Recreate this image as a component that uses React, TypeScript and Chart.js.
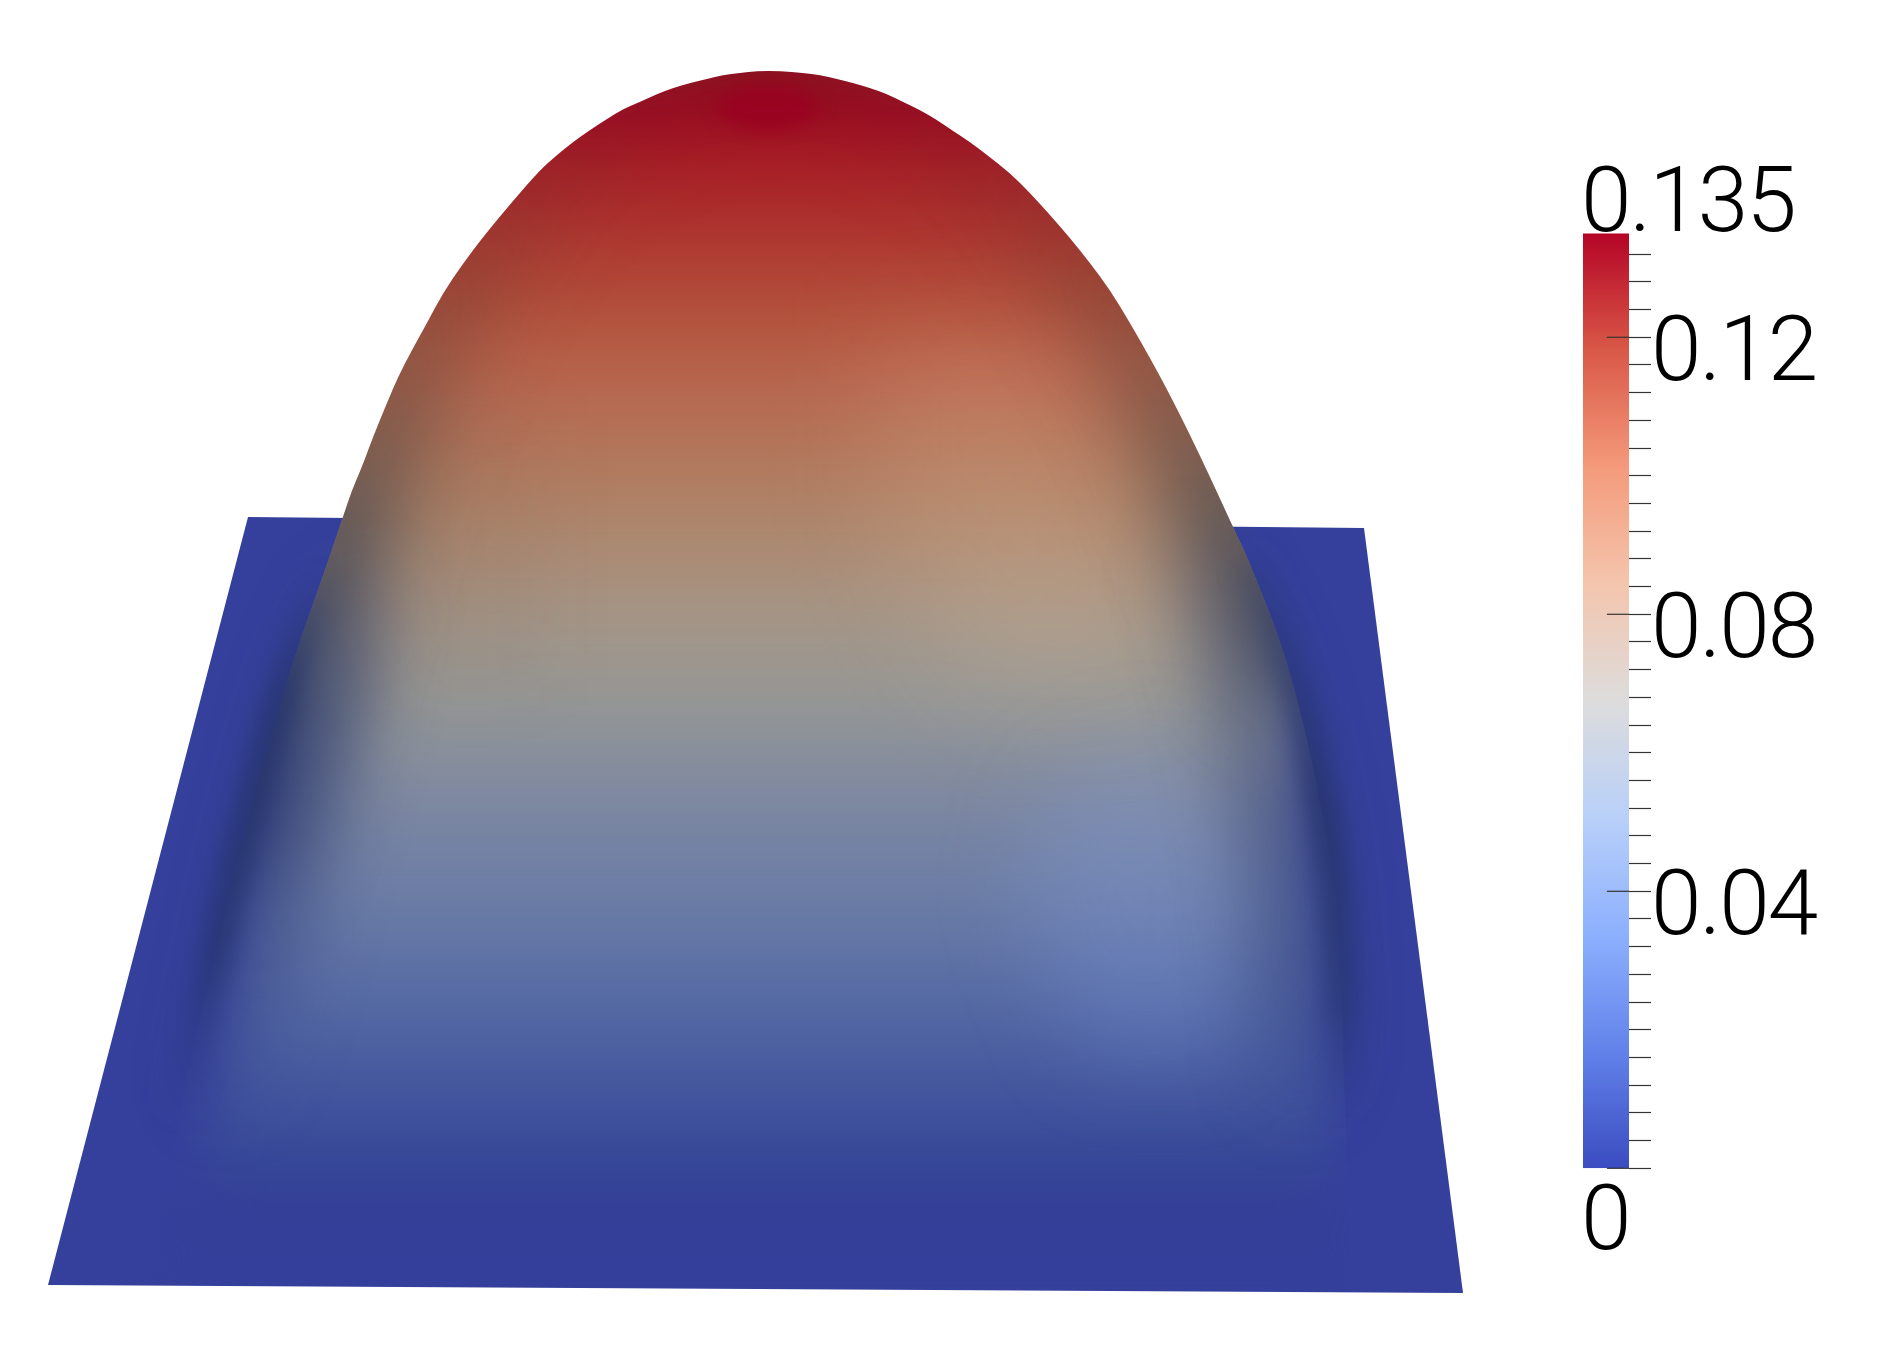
import React, { useEffect, useRef } from "react";
import { Chart, registerables } from "chart.js";

// ---- surface outlines (page pixels) ----
const baseOutline = [
  { x: 48, y: 1285 }, { x: 248, y: 517 }, { x: 1364, y: 528 }, { x: 1463, y: 1293 },
];
const domeCrown = [
  { x: 343, y: 517 }, { x: 352, y: 490 }, { x: 362, y: 467 }, { x: 373, y: 437 }, { x: 387, y: 403 }, { x: 398, y: 377 },
  { x: 412, y: 350 }, { x: 427, y: 323 }, { x: 443, y: 293 }, { x: 462, y: 265 }, { x: 483, y: 237 }, { x: 512, y: 202 },
  { x: 540, y: 170 }, { x: 557, y: 155 }, { x: 573, y: 142 }, { x: 590, y: 130 }, { x: 607, y: 119 }, { x: 623, y: 109 },
  { x: 640, y: 102 }, { x: 657, y: 94 }, { x: 673, y: 88 }, { x: 690, y: 83 }, { x: 707, y: 79 }, { x: 723, y: 75 },
  { x: 740, y: 73 }, { x: 757, y: 71 }, { x: 780, y: 71 }, { x: 803, y: 73 }, { x: 820, y: 75 }, { x: 837, y: 79 },
  { x: 853, y: 83 }, { x: 870, y: 88 }, { x: 887, y: 94 }, { x: 903, y: 102 }, { x: 920, y: 110 }, { x: 937, y: 120 },
  { x: 953, y: 131 }, { x: 970, y: 142 }, { x: 987, y: 155 }, { x: 1010, y: 173 }, { x: 1030, y: 193 }, { x: 1050, y: 215 },
  { x: 1070, y: 238 }, { x: 1090, y: 263 }, { x: 1110, y: 290 }, { x: 1130, y: 323 }, { x: 1150, y: 358 }, { x: 1170, y: 395 },
  { x: 1190, y: 435 }, { x: 1210, y: 477 }, { x: 1232, y: 525 },
];
// foot of the dome where it meets the plate: outer curve, bottom to top
const footEdgeLeft = [
  { x: 150, y: 1285 }, { x: 180, y: 1100 }, { x: 213, y: 968 }, { x: 243, y: 836 }, { x: 293, y: 660 }, { x: 320, y: 585 },
];
const footEdgeRight = [
  { x: 1250, y: 563 }, { x: 1290, y: 666 }, { x: 1323, y: 809 }, { x: 1337, y: 918 }, { x: 1343, y: 1028 }, { x: 1350, y: 1291 },
];
// colour body of the dome, drawn softened and cut along the foot and crown
const bodyLeft = [
  { x: 170, y: 1300 }, { x: 222, y: 1060 }, { x: 250, y: 920 }, { x: 282, y: 800 }, { x: 290, y: 700 }, { x: 250, y: 600 },
  { x: 240, y: 450 }, { x: 330, y: 250 }, { x: 500, y: 80 },
];
const bodyTop = [{ x: 770, y: 0 }];
const bodyRight = [
  { x: 1060, y: 80 }, { x: 1270, y: 330 }, { x: 1340, y: 520 }, { x: 1300, y: 680 }, { x: 1298, y: 820 },
  { x: 1315, y: 950 }, { x: 1330, y: 1080 }, { x: 1340, y: 1300 },
];
const shadowLeft = [
  { x: 318, y: 590 }, { x: 293, y: 660 }, { x: 243, y: 836 }, { x: 213, y: 968 }, { x: 180, y: 1100 },
];
const shadowLeftInner = [
  { x: 375, y: 560 }, { x: 345, y: 660 }, { x: 295, y: 836 }, { x: 262, y: 968 }, { x: 225, y: 1100 },
];
const shadowRight = [
  { x: 1255, y: 570 }, { x: 1290, y: 666 }, { x: 1323, y: 809 }, { x: 1337, y: 918 }, { x: 1343, y: 1028 }, { x: 1343, y: 1090 },
];
const shadowRightInner = [
  { x: 1195, y: 560 }, { x: 1238, y: 666 }, { x: 1272, y: 809 }, { x: 1288, y: 918 }, { x: 1295, y: 1028 }, { x: 1295, y: 1090 },
];
const hotSpot = [
  { x: 713, y: 107 }, { x: 735, y: 90 }, { x: 768, y: 84 }, { x: 801, y: 90 }, { x: 823, y: 107 },
  { x: 801, y: 124 }, { x: 768, y: 130 }, { x: 735, y: 124 },
];
const warmLit = [
  { x: 880, y: 330 }, { x: 1060, y: 330 }, { x: 1140, y: 500 }, { x: 1170, y: 700 }, { x: 980, y: 700 }, { x: 880, y: 520 },
];
const coolLit = [
  { x: 1050, y: 780 }, { x: 1170, y: 740 }, { x: 1240, y: 860 }, { x: 1230, y: 1060 }, { x: 1090, y: 1060 }, { x: 1020, y: 900 },
];
const leftDim = [
  { x: 420, y: 420 }, { x: 540, y: 420 }, { x: 540, y: 680 }, { x: 400, y: 680 },
];
const surfaceHeightColors: [number, string][] = [
  [70, "#8c1420"], [105, "#a00020"], [150, "#a81c25"], [200, "#ab2a2a"], [250, "#b03c33"], [300, "#b04c38"],
  [364, "#b8624a"], [485, "#b07e62"], [545, "#ac8a72"], [607, "#a69484"], [668, "#9c9890"], [728, "#8f9499"],
  [789, "#80899f"], [850, "#7382a4"], [910, "#6a7ba6"], [970, "#5c70a5"], [1030, "#5064a2"], [1092, "#43559d"],
  [1153, "#384a99"], [1195, "#323e94"], [1250, "#35409c"], [1293, "#343f9b"],
];

// ---- colour bar ----
const barValue = [{ x: 0.5, y: 0.135 }];
const tickValues = [
  0, 0.004, 0.008, 0.012, 0.016, 0.02, 0.024, 0.028, 0.032, 0.036, 0.04, 0.044, 0.048, 0.052, 0.056, 0.06, 0.064,
  0.068, 0.072, 0.076, 0.08, 0.084, 0.088, 0.092, 0.096, 0.1, 0.104, 0.108, 0.112, 0.116, 0.12, 0.124, 0.128, 0.132,
];
const majorTicks = [0, 0.04, 0.08, 0.12];
const sideLabels = [0.04, 0.08, 0.12];
const rangeLabels = [
  { value: 0.135, text: "0.135" },
  { value: 0, text: "0" },
];
const barColors = ["#3b4cc0", "#6282ea", "#8db0fe", "#b8d0f9", "#dddcdc", "#f4c5ad", "#f49a7b", "#d95847", "#b40426"];

const FONT = { family: "Roboto", size: 91, weight: "300" as any };

const layerPlugin = {
  id: "surfaceLayers",
  beforeDatasetDraw(chart: any, args: any) {
    const layer = chart.data.datasets[args.index].layer;
    if (!layer) return;
    const { ctx, scales } = chart;
    ctx.save();
    if (layer.clip) {
      const pts = layer.clip.map((p: any) => [scales.x.getPixelForValue(p.x), scales.y.getPixelForValue(p.y)]);
      ctx.beginPath();
      pts.forEach(([px, py]: number[], i: number) => {
        if (i === 0) {
          ctx.moveTo(px, py);
        } else if (layer.smooth && i < pts.length - 1) {
          const [nx, ny] = pts[i + 1];
          ctx.quadraticCurveTo(px, py, (px + nx) / 2, (py + ny) / 2);
        } else {
          ctx.lineTo(px, py);
        }
      });
      ctx.closePath();
      ctx.clip();
    }
    if (layer.blur) ctx.filter = `blur(${layer.blur}px)`;
  },
  afterDatasetDraw(chart: any, args: any) {
    if (chart.data.datasets[args.index].layer) chart.ctx.restore();
  },
};
Chart.register(layerPlugin);
Chart.register(...registerables);

function heightGradient(stops: [number, string][]) {
  return (c: any) => {
    const { chart } = c;
    if (!chart.chartArea) return "transparent";
    const y = chart.scales.y;
    const y0 = y.getPixelForValue(stops[0][0]);
    const y1 = y.getPixelForValue(stops[stops.length - 1][0]);
    const g = chart.ctx.createLinearGradient(0, y0, 0, y1);
    stops.forEach(([v, col]) => g.addColorStop((y.getPixelForValue(v) - y0) / (y1 - y0), col));
    return g;
  };
}

export default function App() {
  const surfaceRef = useRef<HTMLCanvasElement>(null);
  const barRef = useRef<HTMLCanvasElement>(null);

  useEffect(() => {
    const silhouette = [baseOutline[0], baseOutline[1], ...domeCrown, baseOutline[2], baseOutline[3]];
    const domeClip = [...footEdgeLeft, ...domeCrown, ...footEdgeRight];
    const body = [...bodyLeft, ...bodyTop, ...bodyRight];
    const edgeLine = [...footEdgeLeft.slice(3), ...domeCrown, ...footEdgeRight.slice(0, 2)];
    const inDome = { clip: domeClip, smooth: true };
    const shape = (data: any[], color: any, layer: any = {}) => ({
      type: "scatter", data, showLine: true, pointRadius: 0, borderWidth: 0, backgroundColor: color,
      fill: "shape", clip: false, layer,
    });
    const stroke = (data: any[], color: any, width: number, layer: any) => ({
      type: "scatter", data, showLine: true, pointRadius: 0, borderWidth: width, borderColor: color,
      fill: false, clip: false, tension: 0.4, borderCapStyle: "round", layer,
    });
    const layers: any[] = [
      shape(baseOutline, "#35409c"),
      shape(body, heightGradient(surfaceHeightColors), { blur: 28, ...inDome }),
      shape(warmLit, "rgba(255,215,175,0.13)", { blur: 55, ...inDome }),
      shape(coolLit, "rgba(140,170,245,0.2)", { blur: 45, ...inDome }),
      shape(leftDim, "rgba(60,50,50,0.06)", { blur: 40, ...inDome }),
      shape(hotSpot, "#a00020", { blur: 8, ...inDome }),
      stroke(edgeLine, heightGradient([[60, "rgba(60,50,40,0.1)"], [200, "rgba(60,60,50,0.14)"], [320, "rgba(60,60,55,0.3)"], [430, "rgba(60,60,60,0.5)"], [540, "rgba(50,60,75,0.8)"], [650, "rgba(40,55,95,0.9)"], [840, "rgba(40,55,95,0.6)"]]), 90, { blur: 42, ...inDome }),
      stroke(shadowLeftInner, heightGradient([[560, "rgba(45,58,100,0)"], [700, "rgba(42,56,110,0.5)"], [950, "rgba(42,56,120,0.42)"], [1130, "rgba(45,60,140,0)"]]), 70, { blur: 34, clip: silhouette }),
      stroke(shadowRightInner, heightGradient([[540, "rgba(45,58,100,0.05)"], [800, "rgba(42,56,110,0.5)"], [1000, "rgba(42,56,120,0.42)"], [1130, "rgba(45,60,140,0)"]]), 70, { blur: 34, clip: silhouette }),
      stroke(shadowLeft, heightGradient([[570, "rgba(38,52,105,0)"], [700, "rgba(38,52,105,0.95)"], [950, "rgba(38,52,110,0.95)"], [1130, "rgba(45,60,140,0)"]]), 26, { blur: 13, clip: silhouette }),
      stroke(shadowRight, heightGradient([[560, "rgba(38,52,105,0.2)"], [800, "rgba(38,52,105,0.95)"], [1000, "rgba(40,55,115,0.9)"], [1130, "rgba(45,60,140,0)"]]), 28, { blur: 13, clip: silhouette }),
    ];
    layers.forEach((d, i) => (d.order = layers.length - i));

    const surface = new Chart(surfaceRef.current!, {
      type: "scatter",
      data: { datasets: layers },
      options: {
        animation: false, responsive: false,
        layout: { padding: 0 },
        plugins: { legend: { display: false }, tooltip: { enabled: false } },
        scales: {
          x: { type: "linear", min: 0, max: 1903, display: false },
          y: { type: "linear", min: 0, max: 1368, reverse: true, display: false },
        },
      },
    } as any);

    const rangeLabelPlugin = {
      id: "rangeLabels",
      beforeDraw(chart: any) {
        chart.ctx.letterSpacing = "-2px";
      },
      afterDraw(chart: any) {
        const { ctx, scales, chartArea } = chart;
        ctx.save();
        ctx.font = `${FONT.weight} ${FONT.size}px ${FONT.family}`;
        ctx.fillStyle = "#000";
        ctx.textAlign = "left";
        ctx.textBaseline = "alphabetic";
        rangeLabels.forEach(({ value, text }) => {
          const y = scales.y.getPixelForValue(value);
          ctx.fillText(text, chartArea.left - 2, value > 0 ? y - 2 : y + 81);
        });
        ctx.restore();
      },
    };

    const bar = new Chart(barRef.current!, {
      data: {
        datasets: [
          ...majorTicks.map((v) => ({
            type: "line", data: [{ x: 0.52, y: v }, { x: 1, y: v }],
            borderColor: "#333", borderWidth: 1.2, pointRadius: 0, clip: false, order: 0,
          })),
          {
            type: "bar", data: barValue, order: 1, barThickness: 46,
            backgroundColor: (c: any) => {
              const { chart } = c;
              if (!chart.chartArea) return "transparent";
              const g = chart.ctx.createLinearGradient(0, chart.chartArea.bottom, 0, chart.chartArea.top);
              barColors.forEach((col, i) => g.addColorStop(i / (barColors.length - 1), col));
              return g;
            },
          },
        ],
      },
      options: {
        animation: false, responsive: false,
        layout: { padding: { left: 83, top: 103.4, bottom: 131.7, right: 0 } },
        plugins: { legend: { display: false }, tooltip: { enabled: false } },
        scales: {
          x: { type: "linear", min: 0, max: 1, display: false, offset: false },
          y: {
            position: "right", min: 0, max: 0.135,
            afterBuildTicks: (s: any) => { s.ticks = tickValues.map((value) => ({ value })); },
            afterFit: (s: any) => { s.width = 274; },
            border: { display: false },
            grid: { drawOnChartArea: false, drawTicks: true, tickLength: 22, tickColor: "#333", tickWidth: 1.2 },
            ticks: {
              autoSkip: false, maxRotation: 0, padding: 0, labelOffset: 20, color: "#000", font: FONT,
              callback: (v: any) => (sideLabels.includes(Number(v)) ? String(v) : ""),
            },
          },
        },
      },
      plugins: [rangeLabelPlugin],
    } as any);

    return () => { surface.destroy(); bar.destroy(); };
  }, []);

  return (
    <div style={{ position: "absolute", left: 0, top: 0, width: 1903, height: 1368, overflow: "hidden", background: "#fff" }}>
      <canvas ref={surfaceRef} width={1903} height={1368} style={{ position: "absolute", left: 0, top: 0, width: 1903, height: 1368 }} />
      <canvas ref={barRef} width={403} height={1170} style={{ position: "absolute", left: 1500, top: 130, width: 403, height: 1170 }} />
    </div>
  );
}
